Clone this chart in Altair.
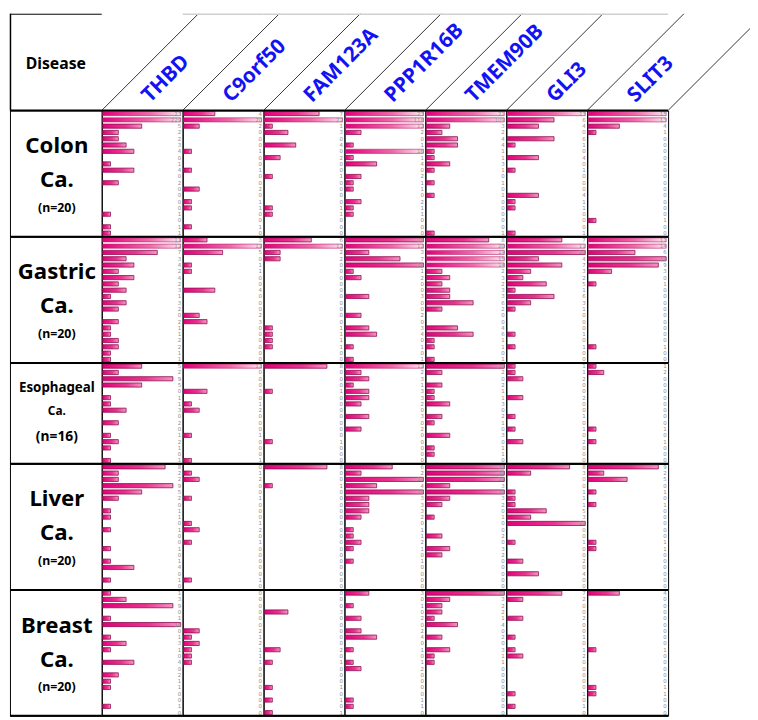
import altair as alt
import pandas as pd

genes = ["THBD", "C9orf50", "FAM123A", "PPP1R16B", "TMEM90B", "GLI3", "SLIT3"]
disease_name = ["Colon", "Gastric", "Esophageal", "Liver", "Breast"]
disease_sub = ["Ca.", "Ca.", "Ca.", "Ca.", "Ca."]
disease_n = ["(n=20)", "(n=20)", "(n=16)", "(n=20)", "(n=20)"]

# ---- values per disease / gene (one entry per sample) ----
colon_THBD = [23, 229, 5, 2, 2, 3, 4, 0, 1, 4, 0, 2, 0, 0, 0, 0, 1, 0, 1, 1]
colon_C9orf50 = [4, 20, 2, 0, 0, 0, 1, 0, 0, 1, 0, 0, 2, 0, 1, 1, 0, 0, 1, 0]
colon_FAM123A = [7, 22, 1, 3, 0, 4, 0, 2, 0, 0, 1, 0, 0, 0, 0, 1, 1, 0, 0, 0]
colon_PPP1R16B = [23, 118, 12, 2, 0, 1, 16, 1, 4, 0, 2, 1, 1, 0, 2, 1, 1, 0, 0, 0]
colon_TMEM90B = [21, 109, 3, 2, 4, 4, 1, 1, 3, 1, 0, 1, 0, 1, 0, 0, 0, 0, 0, 1]
colon_GLI3 = [23, 6, 4, 0, 6, 1, 0, 4, 0, 1, 0, 0, 0, 4, 1, 1, 0, 0, 0, 1]
colon_SLIT3 = [15, 13, 4, 1, 0, 0, 0, 0, 0, 0, 0, 0, 0, 0, 0, 0, 0, 1, 0, 0]

gastric_THBD = [11, 12, 7, 3, 4, 2, 4, 2, 3, 1, 3, 2, 0, 2, 1, 1, 2, 2, 1, 1]
gastric_C9orf50 = [3, 11, 5, 0, 1, 1, 0, 0, 4, 0, 0, 0, 2, 3, 0, 0, 0, 0, 0, 0]
gastric_FAM123A = [6, 12, 2, 2, 0, 0, 0, 0, 0, 0, 0, 0, 0, 0, 1, 1, 1, 1, 0, 0]
gastric_PPP1R16B = [10, 12, 3, 7, 10, 1, 2, 0, 0, 3, 0, 0, 2, 0, 3, 4, 0, 1, 0, 1]
gastric_TMEM90B = [8, 20, 19, 15, 14, 2, 3, 2, 3, 3, 6, 2, 0, 0, 4, 6, 1, 1, 0, 1]
gastric_GLI3 = [7, 11, 10, 4, 7, 3, 2, 5, 1, 6, 3, 1, 0, 0, 0, 1, 0, 1, 0, 0]
gastric_SLIT3 = [11, 14, 6, 10, 9, 3, 0, 1, 0, 0, 0, 0, 0, 0, 0, 0, 0, 1, 0, 0]

esoph_THBD = [5, 2, 9, 5, 0, 1, 1, 3, 0, 2, 0, 1, 2, 1, 0, 1]
esoph_C9orf50 = [11, 0, 0, 0, 3, 0, 1, 2, 0, 0, 0, 1, 0, 0, 0, 1]
esoph_FAM123A = [8, 0, 0, 0, 1, 0, 0, 0, 0, 0, 0, 0, 1, 0, 0, 0]
esoph_PPP1R16B = [12, 2, 3, 1, 3, 3, 2, 0, 3, 0, 2, 0, 0, 0, 0, 0]
esoph_TMEM90B = [10, 2, 0, 2, 1, 1, 3, 0, 2, 1, 0, 3, 0, 1, 1, 0]
esoph_GLI3 = [1, 1, 2, 0, 0, 2, 0, 0, 1, 0, 1, 0, 2, 0, 0, 0]
esoph_SLIT3 = [1, 2, 0, 0, 0, 0, 0, 0, 0, 0, 1, 0, 1, 0, 0, 0]

liver_THBD = [8, 2, 2, 9, 5, 2, 0, 1, 1, 0, 1, 0, 0, 1, 0, 1, 4, 0, 1, 0]
liver_C9orf50 = [0, 1, 2, 0, 0, 1, 0, 0, 0, 1, 2, 0, 1, 0, 0, 0, 0, 0, 1, 0]
liver_FAM123A = [8, 0, 0, 1, 0, 0, 0, 0, 0, 0, 0, 0, 0, 0, 0, 0, 0, 0, 0, 0]
liver_PPP1R16B = [6, 2, 10, 4, 10, 3, 3, 3, 2, 0, 1, 1, 2, 1, 0, 1, 0, 0, 0, 0]
liver_TMEM90B = [10, 10, 10, 3, 10, 3, 2, 0, 1, 0, 0, 2, 0, 3, 2, 0, 0, 0, 0, 0]
liver_GLI3 = [8, 3, 0, 0, 1, 1, 1, 5, 3, 10, 0, 0, 1, 0, 0, 2, 0, 4, 0, 0]
liver_SLIT3 = [9, 2, 5, 0, 1, 0, 1, 0, 0, 0, 0, 0, 1, 1, 0, 0, 0, 0, 0, 0]

breast_THBD = [1, 3, 9, 0, 1, 10, 0, 1, 3, 1, 0, 4, 0, 2, 1, 1, 0, 0, 1, 0]
breast_C9orf50 = [0, 0, 0, 0, 0, 0, 2, 1, 2, 1, 1, 1, 0, 0, 0, 0, 0, 0, 0, 0]
breast_FAM123A = [0, 0, 0, 3, 0, 0, 0, 0, 0, 2, 0, 1, 0, 0, 0, 1, 0, 1, 0, 1]
breast_PPP1R16B = [3, 0, 1, 0, 2, 0, 2, 4, 0, 1, 0, 1, 2, 0, 0, 0, 0, 1, 1, 0]
breast_TMEM90B = [10, 3, 2, 2, 1, 4, 0, 2, 0, 3, 1, 1, 0, 0, 0, 0, 0, 0, 0, 0]
breast_GLI3 = [7, 2, 0, 0, 2, 0, 0, 1, 0, 1, 2, 0, 0, 0, 0, 0, 1, 0, 1, 0]
breast_SLIT3 = [4, 0, 0, 0, 0, 0, 0, 0, 0, 1, 0, 0, 0, 0, 0, 1, 1, 0, 0, 0]

table = [
    [colon_THBD, colon_C9orf50, colon_FAM123A, colon_PPP1R16B, colon_TMEM90B, colon_GLI3, colon_SLIT3],
    [gastric_THBD, gastric_C9orf50, gastric_FAM123A, gastric_PPP1R16B, gastric_TMEM90B, gastric_GLI3, gastric_SLIT3],
    [esoph_THBD, esoph_C9orf50, esoph_FAM123A, esoph_PPP1R16B, esoph_TMEM90B, esoph_GLI3, esoph_SLIT3],
    [liver_THBD, liver_C9orf50, liver_FAM123A, liver_PPP1R16B, liver_TMEM90B, liver_GLI3, liver_SLIT3],
    [breast_THBD, breast_C9orf50, breast_FAM123A, breast_PPP1R16B, breast_TMEM90B, breast_GLI3, breast_SLIT3],
]

# ---- layout ----
W_LEFT = 93
W_CELL = 82
H_HEAD = 98
STEP = 6.375
W_EXTRA = 750 - W_LEFT - 7 * W_CELL
FONT = "Noto Sans"
NOBORDER = alt.ViewBackground(strokeOpacity=0)

grad_normal = alt.LinearGradient(
    gradient="linear", x1=0, x2=1, y1=0, y2=0,
    stops=[alt.GradientStop(color="#e2007a", offset=0),
           alt.GradientStop(color="#ea3490", offset=0.6),
           alt.GradientStop(color="#f396c4", offset=1)])
grad_over = alt.LinearGradient(
    gradient="linear", x1=0, x2=1, y1=0, y2=0,
    stops=[alt.GradientStop(color="#e2007a", offset=0),
           alt.GradientStop(color="#ee6aaa", offset=0.6),
           alt.GradientStop(color="#fce6f1", offset=1)])

one = pd.DataFrame({"a": [0]})


def border_rule(ypos, width, sw=2):
    return alt.Chart(one).mark_rule(color="black", strokeWidth=sw).encode(
        x=alt.value(0), x2=alt.value(width), y=alt.value(ypos))


def cell_chart(vals, last):
    n = len(vals)
    h = n * STEP
    df = pd.DataFrame({"i": list(range(n)), "v": vals})
    df["vb"] = df["v"].clip(upper=10)
    df["lab"] = df["v"].astype(str)
    base = alt.Chart(df)
    y = alt.Y("i:O", axis=None, scale=alt.Scale(paddingInner=0.34, paddingOuter=0.17))
    xs = alt.Scale(domain=[0, 10], range=[1, W_CELL - 2])
    bars_n = base.transform_filter("datum.v > 0 && datum.v <= 10").mark_bar(
        fill=grad_normal, stroke="#8e0f4f", strokeWidth=0.8).encode(
        x=alt.X("vb:Q", scale=xs, axis=None), y=y)
    bars_o = base.transform_filter("datum.v > 10").mark_bar(
        fill=grad_over, stroke="#b8266f", strokeWidth=0.6).encode(
        x=alt.X("vb:Q", scale=xs, axis=None), y=y)
    labs = base.mark_text(align="right", baseline="middle", fontSize=5.5,
                          color="#8c8c8c", font="DejaVu Sans").encode(
        x=alt.value(W_CELL - 1.5), y=y, text="lab:N")
    layers = [bars_n, bars_o, labs, border_rule(0, W_CELL)]
    if last:
        layers.append(border_rule(h, W_CELL))
    return alt.layer(*layers).properties(width=W_CELL, height=h)


def label_chart(r, last):
    n = len(table[r][0])
    h = n * STEP
    if n == 16:
        pos = [0.245, 0.48, 0.735]
        sizes = [13.5, 12, 14]
    else:
        pos = [0.285, 0.555, 0.775]
        sizes = [22.5, 22.5, 12.5]
    df = pd.DataFrame({"t": [disease_name[r], disease_sub[r], disease_n[r]],
                       "p": pos, "s": sizes})
    txt = alt.Chart(df).mark_text(font=FONT, fontWeight="bold", color="black",
                                  align="center", baseline="middle").encode(
        x=alt.value(W_LEFT / 2 + 1),
        y=alt.Y("p:Q", axis=None, scale=alt.Scale(domain=[0, 1], reverse=True)),
        size=alt.Size("s:Q", scale=None, legend=None),
        text="t:N")
    layers = [txt, border_rule(0, W_LEFT)]
    if last:
        layers.append(border_rule(h, W_LEFT))
    return alt.layer(*layers).properties(width=W_LEFT, height=h)


def blank_chart(h):
    return alt.Chart(one).mark_point(opacity=0).encode(
        x=alt.value(0), y=alt.value(0)).properties(width=W_EXTRA, height=h, view=NOBORDER)


# header: Disease
dh = pd.DataFrame({"t": ["Disease"]})
disease_head = alt.layer(
    alt.Chart(dh).mark_text(font=FONT, fontWeight="bold", fontSize=16, color="black").encode(
        x=alt.value(W_LEFT / 2), y=alt.value(H_HEAD * 0.52), text="t:N"),
    alt.Chart(one).mark_rule(color="black", strokeWidth=1).encode(
        x=alt.value(0), x2=alt.value(W_LEFT), y=alt.value(0.5)),
    alt.Chart(one).mark_rule(color="black", strokeWidth=1.5).encode(
        x=alt.value(0.5), y=alt.value(0), y2=alt.value(H_HEAD)),
).properties(width=W_LEFT, height=H_HEAD, view=NOBORDER)

xh = alt.Scale(domain=[0, 1], range=[0, W_CELL])
yh = alt.Scale(domain=[0, 1], range=[H_HEAD, 0])


def diag_rule(clip):
    return alt.Chart(one).transform_calculate(
        k1="0", k2=f"{H_HEAD / W_CELL}", y0="0", y1="1").mark_rule(
        color="black", strokeWidth=0.8, clip=clip).encode(
        x=alt.X("k1:Q", scale=xh, axis=None), x2="k2:Q",
        y=alt.Y("y0:Q", scale=yh, axis=None), y2="y1:Q")


def gene_head(k):
    gdf = pd.DataFrame({"g": [genes[k]]})
    text = alt.Chart(gdf).transform_calculate(
        tx=f"{49 / W_CELL}", ty="0.075").mark_text(
        font=FONT, fontWeight="bold", fontSize=21, color="#1212f2",
        angle=315, align="left", baseline="alphabetic").encode(
        x=alt.X("tx:Q", scale=xh, axis=None),
        y=alt.Y("ty:Q", scale=yh, axis=None), text="g:N")
    layers = [diag_rule(False), text]
    if k >= 1:
        layers.insert(0, alt.Chart(one).mark_rule(color="#d0d0d0", strokeWidth=1.5).encode(
            x=alt.value(0), x2=alt.value(W_CELL), y=alt.value(0.5)))
    return alt.layer(*layers).properties(width=W_CELL, height=H_HEAD, view=NOBORDER)


extra_head = alt.layer(diag_rule(True)).properties(width=W_EXTRA, height=H_HEAD, view=NOBORDER)

panels = [disease_head] + [gene_head(k) for k in range(len(genes))] + [extra_head]
for r in range(len(disease_name)):
    last = r == len(disease_name) - 1
    h = len(table[r][0]) * STEP
    panels.append(label_chart(r, last))
    panels.extend(cell_chart(table[r][c], last) for c in range(len(genes)))
    panels.append(blank_chart(h))

chart = alt.concat(*panels, columns=9, spacing=0, bounds="flush").properties(
    padding=0).configure_view(stroke="black", strokeWidth=1)

chart.save("out.html", embed_options={"renderer": "svg", "actions": False})
